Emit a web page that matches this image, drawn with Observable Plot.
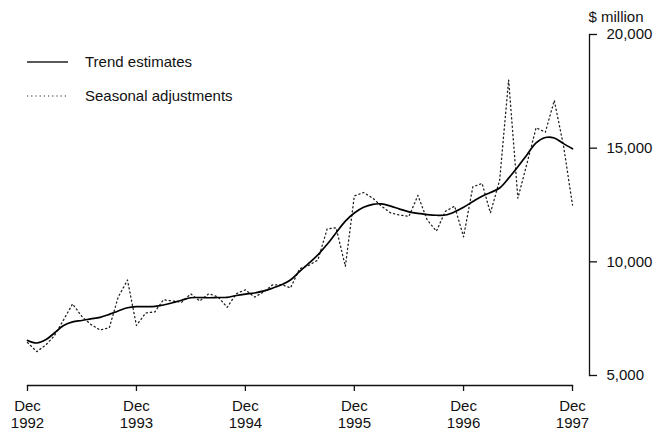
<!DOCTYPE html>
<html>
<head>
<meta charset="utf-8">
<script src="https://cdn.jsdelivr.net/npm/d3@7"></script>
<script src="https://cdn.jsdelivr.net/npm/@observablehq/plot@0.6"></script>
<style>
  html, body { margin: 0; padding: 0; background: #fff; }
  #wrap { position: relative; width: 657px; height: 431px; font-family: "Liberation Sans", Arial, Helvetica, sans-serif; }
  #legend { position: absolute; left: 0; top: 0; pointer-events: none; }
</style>
</head>
<body>
<div id="wrap"></div>
<script>
// Monthly series, Dec 1992 .. Dec 1997 ($ million)
const startYear = 1992;
const trend = [
  6540, 6430, 6580, 6870, 7200, 7360, 7420, 7490, 7560, 7690, 7840, 7980,
  8030, 8030, 8040, 8100, 8200, 8310, 8420, 8430, 8420, 8430, 8440, 8520,
  8580, 8630, 8720, 8840, 8990, 9200, 9580, 9930, 10310, 10770, 11280, 11790,
  12150, 12400, 12530, 12550, 12450, 12320, 12200, 12130, 12080, 12050, 12060, 12200,
  12400, 12650, 12890, 13050, 13250, 13680, 14180, 14700, 15230, 15470, 15450, 15200,
  14970
];
const seasonal = [
  6450, 6050, 6350, 6750, 7450, 8150, 7600, 7250, 7000, 7100, 8450, 9200,
  7200, 7750, 7800, 8330, 8280, 8220, 8590, 8280, 8600, 8450, 8000, 8600,
  8770, 8450, 8680, 8980, 9000, 8850, 9700, 9840, 10080, 11450, 11500, 9800,
  12900, 13050, 12800, 12450, 12150, 12060, 12000, 12920, 11850, 11350, 12220, 12450,
  11100, 13300, 13450, 12150, 13600, 18000, 12800, 14300, 15900, 15700, 17100, 15100,
  12500
];
const tickYears = [1992, 1993, 1994, 1995, 1996, 1997];
const yTicks = [5000, 10000, 15000, 20000];
const legendLabels = ["Trend estimates", "Seasonal adjustments"];
const unitLabel = "$ million";

const start = new Date(Date.UTC(startYear, 11, 1));
const data = trend.map((t, i) => ({
  date: d3.utcMonth.offset(start, i),
  trend: t,
  seasonal: seasonal[i]
}));
const xTicks = tickYears.map(y => new Date(Date.UTC(y, 11, 1)));

const font = "Liberation Sans, Arial, Helvetica, sans-serif";

const chart = Plot.plot({
  width: 657,
  height: 431,
  marginLeft: 27,
  marginRight: 68,
  marginTop: 34,
  marginBottom: 46,
  style: { fontFamily: font, fontSize: "15px", color: "#111", background: "#fff" },
  x: { type: "utc", domain: [xTicks[0], xTicks[xTicks.length - 1]], range: [27, 572] },
  y: { domain: [5000, 20000], range: [375, 34] },
  marks: [
    Plot.frame({ anchor: "right", insetBottom: 10, stroke: "#111", strokeWidth: 1.3 }),
    Plot.frame({ anchor: "bottom", insetRight: 17, stroke: "#111", strokeWidth: 1.3 }),
    Plot.axisY({
      anchor: "right", ticks: yTicks, tickSize: 7, tickPadding: 10,
      tickFormat: d3.format(","), label: null, fontSize: 15, strokeWidth: 1.3
    }),
    Plot.axisX({
      ticks: xTicks, tickSize: 6, tickPadding: 8, lineHeight: 1.12,
      tickFormat: d => "Dec\n" + d.getUTCFullYear(), label: null, fontSize: 15, strokeWidth: 1.3
    }),
    Plot.line(data, { x: "date", y: "seasonal", stroke: "#222", strokeWidth: 1.3, strokeDasharray: "1.2 3" }),
    Plot.line(data, { x: "date", y: "trend", stroke: "#000", strokeWidth: 1.7, curve: "catmull-rom" }),
    Plot.text([unitLabel], { frameAnchor: "top-right", textAnchor: "start", lineAnchor: "bottom", dx: -1, dy: -13, fontSize: 15 })
  ]
});

const wrap = document.getElementById("wrap");
wrap.appendChild(chart);

// Legend overlay
const ns = "http://www.w3.org/2000/svg";
const leg = document.createElementNS(ns, "svg");
leg.setAttribute("id", "legend");
leg.setAttribute("width", 657);
leg.setAttribute("height", 431);
const rows = [
  { label: legendLabels[0], y: 62, dash: null, w: 1.4 },
  { label: legendLabels[1], y: 96, dash: "1.2 3", w: 1.2 }
];
rows.forEach(r => {
  const ln = document.createElementNS(ns, "line");
  ln.setAttribute("x1", 27); ln.setAttribute("x2", 68);
  ln.setAttribute("y1", r.y); ln.setAttribute("y2", r.y);
  ln.setAttribute("stroke", "#222");
  ln.setAttribute("stroke-width", r.w);
  if (r.dash) ln.setAttribute("stroke-dasharray", r.dash);
  leg.appendChild(ln);
  const tx = document.createElementNS(ns, "text");
  tx.setAttribute("x", 85); tx.setAttribute("y", r.y + 5);
  tx.setAttribute("font-family", font);
  tx.setAttribute("font-size", 15);
  tx.setAttribute("fill", "#111");
  tx.textContent = r.label;
  leg.appendChild(tx);
});
wrap.appendChild(leg);
</script>
</body>
</html>
